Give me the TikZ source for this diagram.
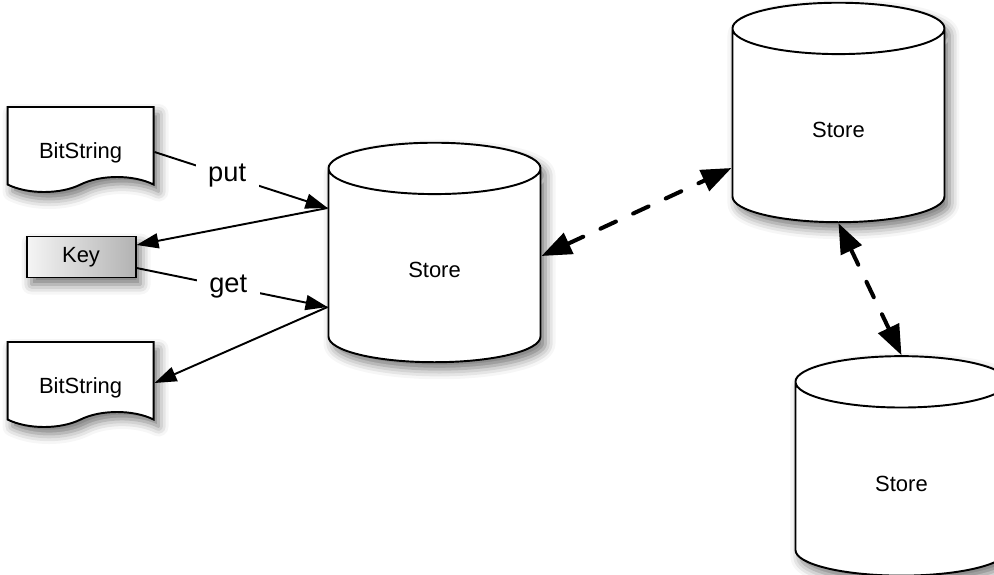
\documentclass[tikz,border=0pt]{standalone}
\usepackage{fontspec}
\setmainfont{Liberation Sans}
\usetikzlibrary{positioning,shapes.geometric,shapes.symbols,arrows.meta,shadows.blur}
\tikzset{soft/.style = {blur shadow={shadow xshift=1mm, shadow yshift=-1.4mm, shadow blur radius=2mm, shadow opacity=55}}}
\tikzset{store/.style = {draw, fill=white, soft, cylinder, shape border rotate=90, aspect=0.8, minimum width=4.24cm, minimum height=4.39cm, font=\fontsize{12.5}{15}\selectfont}}
\tikzset{bits/.style = {draw, fill=white, soft, tape, tape bend top=none, tape bend bottom=in and out, tape bend height=0.3cm, minimum width=2.92cm, minimum height=1.7cm, text height=0.7cm, text depth=0.06cm, font=\fontsize{12.5}{15}\selectfont}}
\tikzset{keybox/.style = {draw, soft, rectangle, left color=gray!8, right color=gray!60, minimum width=2.18cm, minimum height=0.82cm, font=\fontsize{12.5}{15}\selectfont}}
\tikzset{op/.style = {fill=white, inner xsep=0.25cm, inner ysep=0pt, font=\fontsize{15.5}{18}\selectfont}}
\tikzset{link/.style = {line width=2.3pt, line cap=round, dash pattern=on 0.34cm off 0.38cm, {Triangle[length=0.6cm,width=0.45cm]}-{Triangle[length=0.6cm,width=0.45cm]}}}

\begin{document}
\begin{tikzpicture}[>={Triangle[length=0.44cm,width=0.3cm]}, node distance=1cm, line width=1.1pt]
  \useasboundingbox (0,0) rectangle (19.88,-11.48);

  \node [store] (s1) at (8.69,-5.40) {Store};
  \node [store, right=3.8cm of s1, yshift=2.8cm] (s2) {Store};
  \node [store, below=2.64cm of s2, xshift=1.26cm] (s3) {Store};

  \node [bits, left=3.46cm of s1, yshift=2.56cm] (b1) {BitString};
  \node [keybox, left=3.82cm of s1, yshift=0.26cm] (key) {Key};
  \node [bits, left=3.46cm of s1, yshift=-2.14cm] (b2) {BitString};

  \path[->] ([yshift=-0.2cm]b1.east) edge node [op, pos=0.42] {put} ([yshift=1.24cm]s1.west);
  \path[->] ([yshift=1.24cm]s1.west) edge ([yshift=0.24cm]key.east);
  \path[->] ([yshift=-0.22cm]key.east) edge node [op, pos=0.48] {get} ([yshift=-0.74cm]s1.west);
  \path[->] ([yshift=-0.74cm]s1.west) edge ([yshift=-0.12cm]b2.east);

  \path[link] ([yshift=0.28cm]s1.east) edge ([yshift=-0.76cm]s2.west);
  \path[link] (s2.south) edge (s3.north);
\end{tikzpicture}
\end{document}
